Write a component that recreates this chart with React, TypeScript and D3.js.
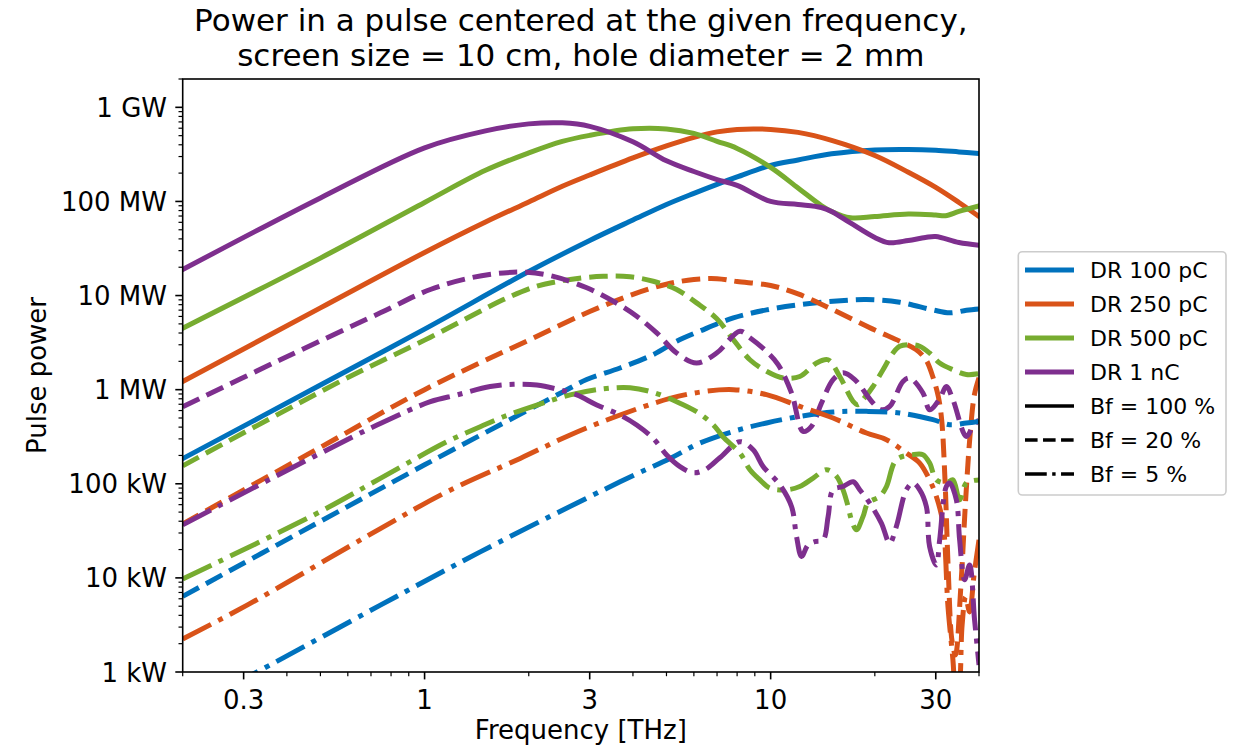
import React from 'react';
import * as d3 from 'd3';

const W = 1243;
const H = 749;
const X0 = 182.7;
const X1 = 979;
const Y0 = 79;
const Y1 = 672;
const FONT = '"DejaVu Sans", Verdana, sans-serif';

const chargeLabels = ['DR 100 pC', 'DR 250 pC', 'DR 500 pC', 'DR 1 nC'];
const chargeColors = ['#0072BD', '#D95319', '#77AC30', '#7E2F8E'];
const bfLabels = ['Bf = 100 %', 'Bf = 20 %', 'Bf = 5 %'];

const xTickValues = [0.3, 1, 3, 10, 30];
const xTickLabels = ['0.3', '1', '3', '10', '30'];
const yTickValues = [1e3, 1e4, 1e5, 1e6, 1e7, 1e8, 1e9];
const yTickLabels = ['1 kW', '10 kW', '100 kW', '1 MW', '10 MW', '100 MW', '1 GW'];

type Pt = [number, number];

// ---- Bf = 100 % ----
const dr100_bf100: Pt[] = [[0.2,1.85e5],[0.5,1.12e6],[1,4.40e6],[2,1.80e7],[3,3.85e7],[4,6.35e7],[5,9.29e7],[6,1.22e8],[7,1.52e8],[8,1.82e8],[10,2.42e8],[12,2.76e8],[15,3.21e8],[20,3.53e8],[25,3.57e8],[30,3.50e8],[35,3.36e8],[40,3.24e8]];
const dr250_bf100: Pt[] = [[0.2,1.22e6],[0.5,7.4e6],[1,2.87e7],[1.5,6.05e7],[2,9.88e7],[2.5,1.45e8],[3,1.91e8],[4,2.90e8],[5,3.89e8],[6,4.80e8],[7,5.48e8],[8,5.83e8],[10,5.83e8],[12,5.42e8],[15,4.46e8],[20,3.08e8],[25,2.04e8],[30,1.41e8],[35,9.75e7],[40,6.92e7]];
const dr500_bf100: Pt[] = [[0.2,4.5e6],[0.5,2.5e7],[1,9.75e7],[1.5,2.14e8],[2,3.28e8],[2.5,4.35e8],[3,5.04e8],[4,5.91e8],[5,5.9e8],[6,5.29e8],[7,4.35e8],[8,3.66e8],[10,2.30e8],[12,1.39e8],[14,9.06e7],[15,7.83e7],[17,6.71e7],[20,6.92e7],[25,7.36e7],[30,7.18e7],[32,7.06e7],[35,7.83e7],[40,8.96e7]];
const dr1000_bf100: Pt[] = [[0.2,1.89e7],[0.5,1.09e8],[1,3.71e8],[1.5,5.62e8],[2,6.67e8],[2.5,6.84e8],[3,6.28e8],[4,4.3e8],[5,2.70e8],[6,2.08e8],[7,1.71e8],[8,1.48e8],[10,1.0e8],[12,9.29e7],[14,8.63e7],[15,7.83e7],[17,5.91e7],[20,4.14e7],[22,3.64e7],[25,3.85e7],[28,4.14e7],[30,4.24e7],[35,3.66e7],[40,3.43e7]];

// ---- Bf = 20 % ----
const dr100_bf20: Pt[] = [[0.2,6.36e3],[0.5,3.99e4],[1,1.59e5],[2,6.12e5],[2.5,9.40e5],[2.94,1.28e6],[3.67,1.70e6],[4.58,2.36e6],[5.35,3.27e6],[6.25,4.2e6],[7.8,5.79e6],[9.73,7.04e6],[12.1,8.0e6],[15.15,8.69e6],[18.9,9.07e6],[23.6,8.49e6],[29.4,7.04e6],[32.9,6.55e6],[36.8,6.98e6],[40,7.2e6]];
const dr250_bf20: Pt[] = [[0.2,3.75e4],[0.5,2.44e5],[1,1.0e6],[2,3.36e6],[3,6.76e6],[4,1.03e7],[5,1.32e7],[6,1.48e7],[7,1.51e7],[8,1.41e7],[10,1.28e7],[12,1.04e7],[15,7.18e6],[20,4.30e6],[23.6,3.27e6],[26.3,2.67e6],[28.1,2.08e6],[29.4,1.38e6],[30.5,8.49e5],[31.2,4.80e5],[31.9,1.10e5],[32.6,1.22e4],[33.4,2.19e3],[34.2,1.52e3],[35.4,7.45e3],[36.6,6.76e4],[37.8,3.75e5],[38.8,8.85e5],[40,1.34e6]];
const dr500_bf20: Pt[] = [[0.2,1.55e5],[0.584,1.28e6],[1,3.36e6],[1.448,6.81e6],[1.69,9.06e6],[2.11,1.26e7],[2.634,1.48e7],[3.286,1.60e7],[3.925,1.58e7],[4.58,1.42e7],[5.351,1.16e7],[6.11,8.36e6],[6.98,5.69e6],[7.8,3.40e6],[8.71,2.08e6],[9.73,1.57e6],[10.87,1.33e6],[12.14,1.38e6],[13.57,1.92e6],[14.65,2.08e6],[15.84,1.38e6],[17.31,7.52e5],[17.88,6.92e5],[18.49,7.83e5],[19.76,1.08e6],[21.12,1.63e6],[22.57,2.45e6],[23.6,2.89e6],[25.22,3.01e6],[26.96,2.89e6],[28.8,2.45e6],[30.79,1.92e6],[33.63,1.63e6],[36.76,1.45e6],[40,1.48e6]];
const dr1000_bf20: Pt[] = [[0.2,6.59e5],[0.383,2.08e6],[0.745,6.55e6],[1.039,1.16e7],[1.355,1.54e7],[1.69,1.74e7],[1.975,1.77e7],[2.357,1.60e7],[2.943,1.21e7],[3.512,8.69e6],[4.102,6.03e6],[4.686,4.01e6],[5.351,2.45e6],[6.11,1.92e6],[6.98,2.45e6],[8.15,4.17e6],[8.71,3.57e6],[9.73,2.55e6],[10.51,1.85e6],[11.49,9.23e5],[12.41,3.60e5],[13.12,4.07e5],[14.03,7.23e5],[15.15,1.28e6],[16.19,1.51e6],[17.5,1.28e6],[19.76,7.23e5],[20.89,6.12e5],[22.08,6.64e5],[24.12,1.22e6],[25.22,1.33e6],[27.55,9.23e5],[28.8,6.12e5],[30.8,8.0e5],[32.18,1.08e6],[33.63,7.83e5],[36.76,3.18e5],[38.41,4.07e5],[40,4.8e5]];

// ---- Bf = 5 % ----
const dr100_bf5: Pt[] = [[0.2,3.85e2],[0.328,1.0e3],[0.745,5.13e3],[1.448,1.89e4],[3.671,1.05e5],[5.12,1.86e5],[6.25,2.71e5],[7.8,3.60e5],[9.73,4.43e5],[12.14,5.20e5],[15.15,5.79e5],[18.92,5.88e5],[23.6,5.65e5],[29.44,4.80e5],[32.9,4.25e5],[36.76,4.43e5],[40,4.60e5]];
const dr250_bf5: Pt[] = [[0.2,2.24e3],[0.307,5.13e3],[0.745,3.34e4],[1.16,8.22e4],[1.889,1.86e5],[2.634,3.30e5],[3.671,5.38e5],[5.12,8.07e5],[6.39,9.53e5],[7.8,1.0e6],[9.73,8.85e5],[12.14,6.64e5],[15.15,5.0e5],[18.92,3.46e5],[21.61,2.94e5],[24.67,2.12e5],[26.96,1.66e5],[28.8,1.10e5],[30.12,7.33e4],[31.47,3.82e4],[32.54,4.95e3],[33.63,1.34e3],[34.36,5.0e2],[35.05,6.4e2],[35.75,3.16e3],[36.6,6.28e3],[37.57,4.35e3],[38.71,1.08e4],[40,2.54e4]];
const dr500_bf5: Pt[] = [[0.2,9.75e3],[0.478,4.65e4],[0.745,1.14e5],[1.16,2.80e5],[1.448,4.04e5],[1.69,5.16e5],[2.11,6.87e5],[2.634,8.79e5],[3.286,1.02e6],[3.925,1.05e6],[4.58,9.35e5],[5.351,7.45e5],[6.11,5.83e5],[6.82,4.25e5],[7.28,3.16e5],[8.15,2.12e5],[8.71,1.41e5],[9.31,1.10e5],[9.95,9.0e4],[11.12,8.63e4],[12.14,9.35e4],[13.27,1.15e5],[14.5,1.41e5],[15.5,1.20e5],[16.19,8.63e4],[16.74,5.74e4],[17.12,4.14e4],[17.7,3.24e4],[18.49,4.49e4],[19.11,6.24e4],[20.66,7.33e4],[21.61,9.35e4],[23.08,1.80e5],[25.78,2.04e5],[27.55,2.04e5],[28.8,1.66e5],[30.12,1.10e5],[32.18,1.02e5],[33.63,1.10e5],[35.16,6.76e4],[36.76,1.02e5],[40,1.10e5]];
const dr1000_bf5: Pt[] = [[0.2,3.66e4],[0.478,1.94e5],[0.745,4.38e5],[1.039,7.45e5],[1.24,8.79e5],[1.547,1.08e6],[1.806,1.14e6],[2.11,1.12e6],[2.464,9.93e5],[2.754,8.79e5],[3.145,6.87e5],[3.671,5.38e5],[4.102,4.21e5],[4.58,3.03e5],[5.008,2.02e5],[5.47,1.52e5],[5.965,1.31e5],[6.46,1.41e5],[7.13,1.89e5],[8.15,2.80e5],[8.9,2.30e5],[9.51,1.53e5],[10.63,9.75e4],[11.49,5.74e4],[11.88,2.75e4],[12.28,1.69e4],[12.83,2.24e4],[13.42,2.43e4],[14.18,2.54e4],[14.66,4.49e4],[15.15,8.63e4],[16.19,9.35e4],[17.31,1.05e5],[18.09,8.63e4],[19.33,6.24e4],[20.89,3.82e4],[22.08,2.34e4],[23.08,3.52e4],[24.67,8.63e4],[25.78,1.02e5],[26.96,8.63e4],[28.18,5.74e4],[28.8,2.15e4],[30.12,1.37e4],[30.79,2.54e4],[32.18,9.35e4],[32.9,1.02e5],[34.4,6.76e4],[35.16,2.54e4],[36.35,9.53e3],[37.57,1.37e4],[38.84,3.57e3],[40,1.19e3]];

const seriesTable: { data: Pt[]; charge: number; bf: number }[] = [
  { data: dr100_bf100, charge: 0, bf: 0 },
  { data: dr250_bf100, charge: 1, bf: 0 },
  { data: dr500_bf100, charge: 2, bf: 0 },
  { data: dr1000_bf100, charge: 3, bf: 0 },
  { data: dr100_bf20, charge: 0, bf: 1 },
  { data: dr250_bf20, charge: 1, bf: 1 },
  { data: dr500_bf20, charge: 2, bf: 1 },
  { data: dr1000_bf20, charge: 3, bf: 1 },
  { data: dr100_bf5, charge: 0, bf: 2 },
  { data: dr250_bf5, charge: 1, bf: 2 },
  { data: dr500_bf5, charge: 2, bf: 2 },
  { data: dr1000_bf5, charge: 3, bf: 2 },
];

const LW = 5;
const dashFor = (bf: number, lw: number) =>
  bf === 0 ? undefined : bf === 1 ? `${3.7 * lw} ${1.6 * lw}` : `${6.4 * lw} ${1.6 * lw} ${1 * lw} ${1.6 * lw}`;

export default function App() {
  const x = d3.scaleLog().domain([0.2, 40]).range([X0, X1]);
  const y = d3.scaleLog().domain([1e3, 2e9]).range([Y1, Y0]);
  const line = d3
    .line<Pt>()
    .x((d) => x(d[0]))
    .y((d) => y(d[1]))
    .curve(d3.curveCatmullRom.alpha(0.5));

  const xMinor: number[] = [];
  [0.1, 1, 10].forEach((dec) => {
    for (let k = 2; k <= 9; k++) {
      const v = +(k * dec).toPrecision(3);
      if (v >= 0.2 && v <= 40 && !xTickValues.includes(v)) xMinor.push(v);
    }
  });
  const yMinor: number[] = [];
  [1e3, 1e4, 1e5, 1e6, 1e7, 1e8, 1e9].forEach((dec) => {
    for (let k = 2; k <= 9; k++) {
      const v = k * dec;
      if (v <= 2e9) yMinor.push(v);
    }
  });

  const legendItems = [
    ...chargeLabels.map((l, i) => ({ label: l, color: chargeColors[i], bf: 0, lw: 5 })),
    ...bfLabels.map((l, i) => ({ label: l, color: '#000', bf: i, lw: 3.4 })),
  ];

  return (
    <svg
      width={W}
      height={H}
      viewBox={`0 0 ${W} ${H}`}
      style={{ position: 'absolute', left: 0, top: 0, background: '#fff' }}
      fontFamily={FONT}
    >
      <rect x={0} y={0} width={W} height={H} fill="#fff" />
      <defs>
        <clipPath id="plotclip">
          <rect x={X0} y={Y0} width={X1 - X0} height={Y1 - Y0} />
        </clipPath>
      </defs>

      <g clipPath="url(#plotclip)">
        {seriesTable.map((s, i) => (
          <path
            key={i}
            d={line(s.data) || ''}
            fill="none"
            stroke={chargeColors[s.charge]}
            strokeWidth={LW}
            strokeDasharray={dashFor(s.bf, LW)}
            strokeLinecap={s.bf === 0 ? 'square' : 'butt'}
            strokeLinejoin="round"
          />
        ))}
      </g>

      {/* frame */}
      <rect x={X0} y={Y0} width={X1 - X0} height={Y1 - Y0} fill="none" stroke="#000" strokeWidth={1.6} />

      {/* x ticks */}
      {xTickValues.map((v, i) => (
        <g key={'xt' + i}>
          <line x1={x(v)} x2={x(v)} y1={Y1} y2={Y1 + 7.4} stroke="#000" strokeWidth={1.6} />
          <text x={x(v)} y={709} fontSize={26} textAnchor="middle" fill="#000">
            {xTickLabels[i]}
          </text>
        </g>
      ))}
      {xMinor.map((v, i) => (
        <line key={'xm' + i} x1={x(v)} x2={x(v)} y1={Y1} y2={Y1 + 4.2} stroke="#000" strokeWidth={1.2} />
      ))}

      {/* y ticks */}
      {yTickValues.map((v, i) => (
        <g key={'yt' + i}>
          <line x1={X0 - 7.4} x2={X0} y1={y(v)} y2={y(v)} stroke="#000" strokeWidth={1.6} />
          <text x={167} y={y(v) + 9.5} fontSize={26} textAnchor="end" fill="#000">
            {yTickLabels[i]}
          </text>
        </g>
      ))}
      {yMinor.map((v, i) => (
        <line key={'ym' + i} x1={X0 - 4.2} x2={X0} y1={y(v)} y2={y(v)} stroke="#000" strokeWidth={1.2} />
      ))}

      {/* axis labels */}
      <text x={(X0 + X1) / 2} y={739} fontSize={26} textAnchor="middle" fill="#000">
        Frequency [THz]
      </text>
      <text
        transform={`translate(46, ${(Y0 + Y1) / 2}) rotate(-90)`}
        fontSize={26}
        textAnchor="middle"
        fill="#000"
      >
        Pulse power
      </text>

      {/* title */}
      <text x={(X0 + X1) / 2} y={31} fontSize={31} textAnchor="middle" fill="#000">
        Power in a pulse centered at the given frequency,
      </text>
      <text x={(X0 + X1) / 2} y={66} fontSize={31} textAnchor="middle" fill="#000">
        screen size = 10 cm, hole diameter = 2 mm
      </text>

      {/* legend */}
      <g>
        <rect x={1018.3} y={251.7} width={207.7} height={243.3} rx={4} fill="#fff" stroke="#cccccc" strokeWidth={1.6} />
        {legendItems.map((it, i) => {
          const cy = 270 + i * 34;
          return (
            <g key={'lg' + i}>
              <line
                x1={1025}
                x2={1074}
                y1={cy}
                y2={cy}
                stroke={it.color}
                strokeWidth={it.lw}
                strokeDasharray={dashFor(it.bf, it.lw)}
              />
              <text x={1090} y={cy + 8} fontSize={22} fill="#000">
                {it.label}
              </text>
            </g>
          );
        })}
      </g>
    </svg>
  );
}
